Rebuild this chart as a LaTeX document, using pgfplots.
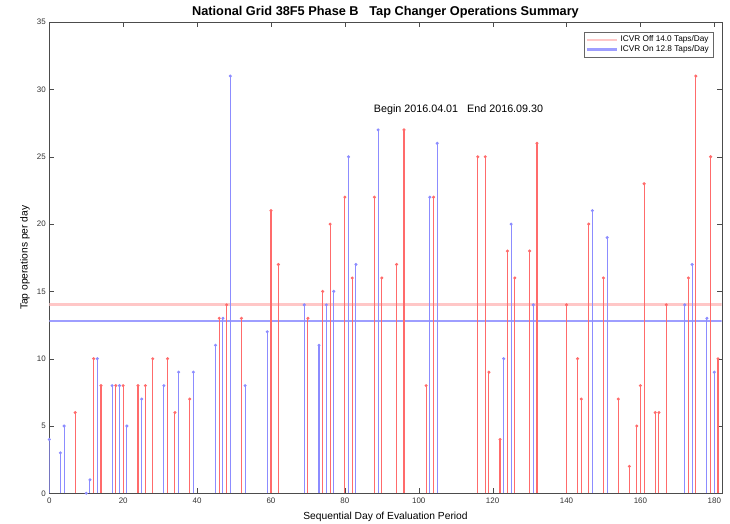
\documentclass[border=0pt]{standalone}
\usepackage{fontspec}
\setmainfont{Liberation Sans}
\usepackage{pgfplots}
\pgfplotsset{compat=1.18}
\definecolor{stemred}{rgb}{1,0.42,0.42}
\definecolor{stemblue}{rgb}{0.55,0.55,1}
\definecolor{meanred}{rgb}{1,0.78,0.78}
\definecolor{meanblue}{rgb}{0.62,0.62,1}

\begin{document}
\begin{tikzpicture}
\path[use as bounding box] (-49.3bp,-30.7bp) rectangle (680.7bp,493.3bp);
\begin{axis}[
    at={(0,0)}, anchor=south west,
    scale only axis,
    width=672.4bp, height=471.1bp,
    xmin=0, xmax=182, ymin=0, ymax=35,
    xtick={0,20,...,180}, ytick={0,5,...,35},
    tick align=inside, tick pos=both,
    major tick length=5bp,
    every tick/.append style={black!70},
    axis line style={black!70},
    /pgf/number format/assume math mode=true,
    ticklabel style={font=\fontsize{8}{9}\selectfont, text=black!80},
    xticklabel style={yshift=-1bp},
    every axis title shift=0pt,
    title={\textbf{National Grid 38F5 Phase B\ \ \ Tap Changer Operations Summary}},
    title style={font=\fontsize{12.8}{14}\selectfont, at={(0.5,1)}, anchor=base, yshift=7bp},
    xlabel={Sequential Day of Evaluation Period},
    ylabel={Tap operations per day},
    label style={font=\fontsize{10.3}{12}\selectfont},
    xlabel style={at={(0.5,0)}, anchor=center, yshift=-23.4bp},
    ylabel style={at={(0,0.5)}, anchor=center, rotate=0, yshift=24.3bp},
    legend style={at={(0.987,0.979)}, anchor=north east,
        font=\fontsize{8.3}{9}\selectfont, draw=black!60,
        inner xsep=2bp, inner ysep=1.5bp, row sep=-1.5bp},
    legend cell align=left,
]
% averages
\addplot[color=meanred, line width=3.2bp, forget plot] coordinates {(0,14.0) (182,14.0)};
\addplot[color=meanblue, line width=1.4bp, forget plot] coordinates {(0,12.8) (182,12.8)};
% ICVR off (red)
\addplot[ycomb, color=stemred, line width=1.1bp, mark=*, mark size=0.9bp, forget plot] coordinates {
(7,6) (12,10) (14,8) (18,8) (20,8) (24,8) (26,8) (28,10) (32,10) (34,6) (38,7)
(46,13) (48,14) (52,13) (60,21) (62,17) (70,13) (74,15) (76,20) (80,22) (82,16)
(88,22) (90,16) (94,17) (96,27) (102,8) (104,22) (116,25) (118,25) (119,9)
(122,4) (124,18) (126,16) (130,18) (132,26) (140,14) (143,10) (144,7) (146,20)
(150,16) (154,7) (157,2) (159,5) (160,8) (161,23) (164,6) (165,6) (167,14)
(173,16) (175,31) (179,25) (181,10)
};
% ICVR on (blue)
\addplot[ycomb, color=stemblue, line width=1.1bp, mark=*, mark size=0.9bp, forget plot] coordinates {
(0,4) (3,3) (4,5) (10,0) (11,1) (13,10) (17,8) (19,8) (21,5) (25,7) (31,8)
(35,9) (39,9) (45,11) (47,13) (49,31) (53,8) (59,12) (69,14) (73,11) (75,14)
(77,15) (81,25) (83,17) (89,27) (103,22) (105,26) (123,10) (125,20) (131,14)
(147,21) (151,19) (172,14) (174,17) (178,13) (180,9)
};
\addlegendimage{legend image code/.code={\draw[color=meanred, line width=2bp] (0bp,0bp) -- (30bp,0bp);}}
\addlegendentry{ICVR Off 14.0 Taps/Day}
\addlegendimage{legend image code/.code={\draw[color=meanblue, line width=2.2bp] (0bp,0bp) -- (30bp,0bp);}}
\addlegendentry{ICVR On 12.8 Taps/Day}
\node[anchor=west, font=\fontsize{10.8}{12}\selectfont] at (axis cs:86.9,28.5)
    {Begin 2016.04.01\ \ \ End 2016.09.30};
\end{axis}
\end{tikzpicture}
\end{document}
